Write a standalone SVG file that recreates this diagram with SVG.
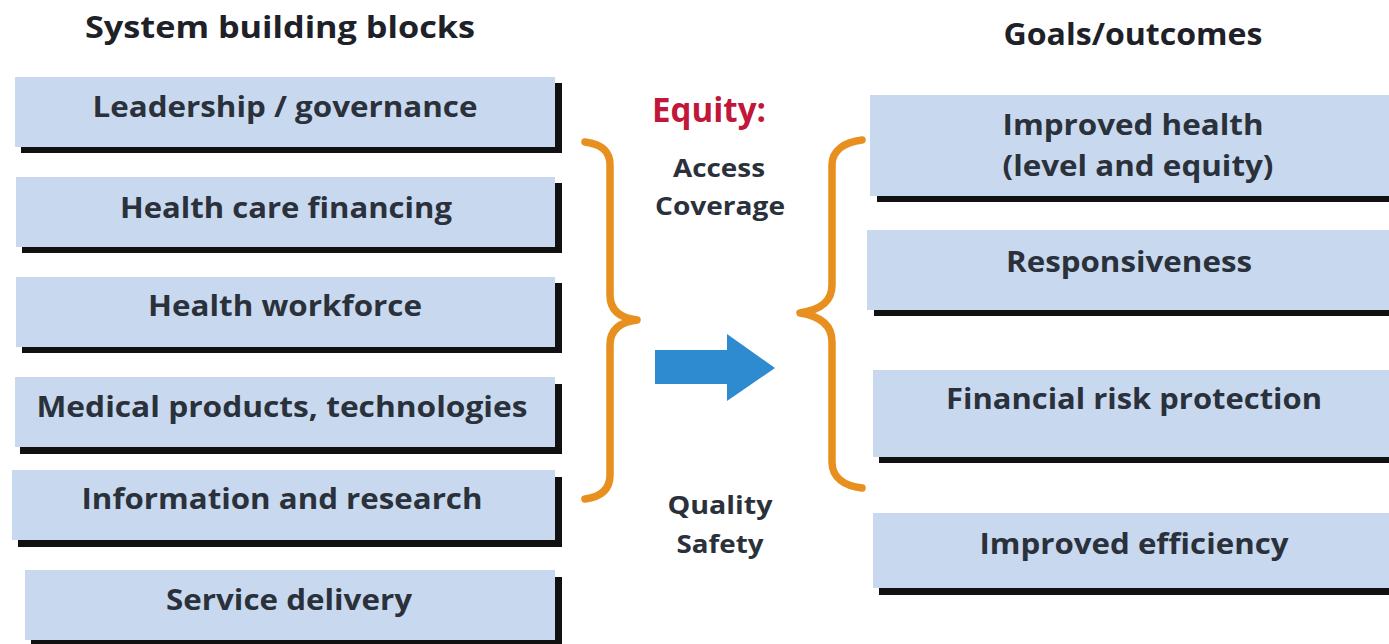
<svg xmlns="http://www.w3.org/2000/svg" width="1389" height="644" viewBox="0 0 1389 644">
<style>
.box{fill:#c8d9ef}
.sh{fill:#111}
text{font-family:"Open Sans",Lato,"Liberation Sans",sans-serif;font-weight:bold;text-anchor:middle}
.t{font-size:29px;fill:#2b313b}
.h{font-size:30px;fill:#1e2228}
.s{font-size:25px;fill:#2b313b}
.br{fill:none;stroke:#e8901f;stroke-width:7.5;stroke-linecap:round;stroke-linejoin:round}
</style>
<rect width="1389" height="644" fill="#fff"/>
<g id="headers">
<text class="h" x="280" y="38" textLength="390" lengthAdjust="spacingAndGlyphs">System building blocks</text>
<text class="h" x="1133" y="45" textLength="259" lengthAdjust="spacingAndGlyphs">Goals/outcomes</text>
</g>
<g id="n1"><rect class="sh" x="21" y="83" width="541" height="70"/><rect class="box" x="15" y="77" width="540" height="70"/><text class="t" x="285" y="117" textLength="385" lengthAdjust="spacingAndGlyphs">Leadership / governance</text></g>
<g id="n2"><rect class="sh" x="22" y="183" width="540" height="70"/><rect class="box" x="16" y="177" width="539" height="70"/><text class="t" x="286" y="218" textLength="332" lengthAdjust="spacingAndGlyphs">Health care financing</text></g>
<g id="n3"><rect class="sh" x="22" y="283" width="540" height="70"/><rect class="box" x="16" y="277" width="539" height="70"/><text class="t" x="285" y="316" textLength="274" lengthAdjust="spacingAndGlyphs">Health workforce</text></g>
<g id="n4"><rect class="sh" x="20" y="384" width="542" height="70"/><rect class="box" x="15" y="377" width="540" height="70"/><text class="t" x="282" y="417" textLength="491" lengthAdjust="spacingAndGlyphs">Medical products, technologies</text></g>
<g id="n5"><rect class="sh" x="18" y="477" width="544" height="70"/><rect class="box" x="12" y="470" width="543" height="70"/><text class="t" x="282" y="509" textLength="401" lengthAdjust="spacingAndGlyphs">Information and research</text></g>
<g id="n6"><rect class="sh" x="31" y="577" width="531" height="70"/><rect class="box" x="25" y="570" width="530" height="70"/><text class="t" x="289" y="610" textLength="246" lengthAdjust="spacingAndGlyphs">Service delivery</text></g>
<g id="g1"><rect class="sh" x="877" y="103" width="520" height="99"/><rect class="box" x="870" y="95" width="520" height="101"/><text class="t" x="1133" y="135" textLength="261" lengthAdjust="spacingAndGlyphs">Improved health</text><text class="t" x="1138" y="176" textLength="271" lengthAdjust="spacingAndGlyphs">(level and equity)</text></g>
<g id="g2"><rect class="sh" x="874" y="237" width="520" height="79"/><rect class="box" x="867" y="230" width="523" height="80"/><text class="t" x="1129" y="272" textLength="246" lengthAdjust="spacingAndGlyphs">Responsiveness</text></g>
<g id="g3"><rect class="sh" x="879" y="376" width="520" height="87"/><rect class="box" x="873" y="370" width="517" height="87"/><text class="t" x="1134" y="409" textLength="376" lengthAdjust="spacingAndGlyphs">Financial risk protection</text></g>
<g id="g4"><rect class="sh" x="879" y="520" width="520" height="75"/><rect class="box" x="873" y="513" width="517" height="75"/><text class="t" x="1134" y="554" textLength="309" lengthAdjust="spacingAndGlyphs">Improved efficiency</text></g>
<g id="labels">
<text x="709" y="122" font-size="34" fill="#c0173a" textLength="114" lengthAdjust="spacingAndGlyphs">Equity:</text>
<text class="s" x="719" y="177" textLength="92" lengthAdjust="spacingAndGlyphs">Access</text>
<text class="s" x="720" y="215" textLength="130" lengthAdjust="spacingAndGlyphs">Coverage</text>
<text class="s" x="720" y="514" textLength="105" lengthAdjust="spacingAndGlyphs">Quality</text>
<text class="s" x="720" y="553" textLength="87" lengthAdjust="spacingAndGlyphs">Safety</text>
</g>
<g id="connectors">
<path class="br" d="M585,142 C600,144 610,150 610,165 L610,295 C610,310 620,318 637,320 C620,322 610,330 610,345 L610,475 C610,490 600,497 585,499"/>
<path class="br" d="M862,140 C845,142 832,150 832,165 L832,285 C832,302 820,310 800,313 C820,316 832,325 832,342 L832,462 C832,478 845,486 862,488"/>
<path fill="#2e8bd0" d="M655,350 L727,350 L727,334 L775,368 L727,401 L727,384 L655,384 Z"/>
</g>
</svg>
